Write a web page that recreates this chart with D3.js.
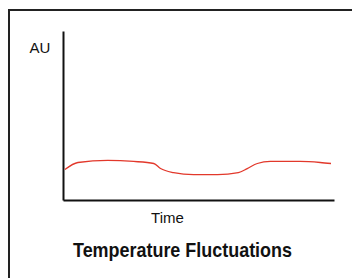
<!DOCTYPE html>
<html>
<head>
<meta charset="utf-8">
<script src="https://cdn.jsdelivr.net/npm/d3@7"></script>
<style>
  body { margin: 0; background: #fff; }
  svg { display: block; }
</style>
</head>
<body>
<div class="chart"></div>
<script>
// readings (time in %, AU arbitrary)
var times = [0.7, 5.5, 16.5, 26.1, 33.5, 36.0, 40.8, 48.2, 57.0, 64.7, 68.0, 71.7, 76.5, 87.5, 94.9, 98.9];
var values = [18.0, 22.2, 23.4, 22.8, 21.6, 18.6, 16.2, 15.0, 15.0, 16.2, 18.6, 21.6, 22.8, 22.8, 22.2, 21.6];

var yLabel = "AU";
var xLabel = "Time";
var title = "Temperature Fluctuations";

var svgWidth = 352;
var svgHeight = 278;

var margin = { top: 31, right: 18, bottom: 78, left: 63 };
var width = svgWidth - margin.left - margin.right;
var height = svgHeight - margin.top - margin.bottom;

var svg = d3.select(".chart")
  .append("svg")
  .attr("width", svgWidth)
  .attr("height", svgHeight);

// frame that runs off the right and bottom edges
svg.append("rect")
  .attr("x", 9)
  .attr("y", 10)
  .attr("width", 400)
  .attr("height", 400)
  .attr("fill", "none")
  .attr("stroke", "#222")
  .attr("stroke-width", 2);

var chartGroup = svg.append("g")
  .attr("transform", `translate(${margin.left}, ${margin.top})`);

var data = times.map((t, i) => ({ t: t, v: values[i] }));

var xScale = d3.scaleLinear().domain([0, 100]).range([0, width]);
var yScale = d3.scaleLinear().domain([0, 100]).range([height, 0]);

// axes without ticks, just the lines
chartGroup.append("g")
  .attr("transform", `translate(0, ${height})`)
  .call(d3.axisBottom(xScale).tickValues([]).tickSizeOuter(0))
  .select(".domain")
  .attr("stroke", "#111")
  .attr("stroke-width", 2);

chartGroup.append("g")
  .call(d3.axisLeft(yScale).tickValues([]).tickSizeOuter(0))
  .select(".domain")
  .attr("stroke", "#111")
  .attr("stroke-width", 2);

var line = d3.line()
  .x(d => xScale(d.t))
  .y(d => yScale(d.v))
  .curve(d3.curveMonotoneX);

chartGroup.append("path")
  .datum(data)
  .attr("d", line)
  .attr("fill", "none")
  .attr("stroke", "#e2382b")
  .attr("stroke-width", 1.3);

svg.append("text")
  .attr("x", 40)
  .attr("y", 53)
  .attr("text-anchor", "middle")
  .style("font", "15px 'Liberation Sans', Arial, sans-serif")
  .attr("fill", "#111")
  .text(yLabel);

svg.append("text")
  .attr("x", 167.5)
  .attr("y", 223)
  .attr("text-anchor", "middle")
  .style("font", "15px 'Liberation Sans', Arial, sans-serif")
  .attr("fill", "#111")
  .text(xLabel);

svg.append("text")
  .attr("x", 73)
  .attr("y", 257)
  .attr("textLength", 219)
  .attr("lengthAdjust", "spacingAndGlyphs")
  .style("font", "bold 21px 'Liberation Sans Narrow', 'Liberation Sans', Arial, sans-serif")
  .attr("fill", "#111")
  .text(title);
</script>
</body>
</html>
